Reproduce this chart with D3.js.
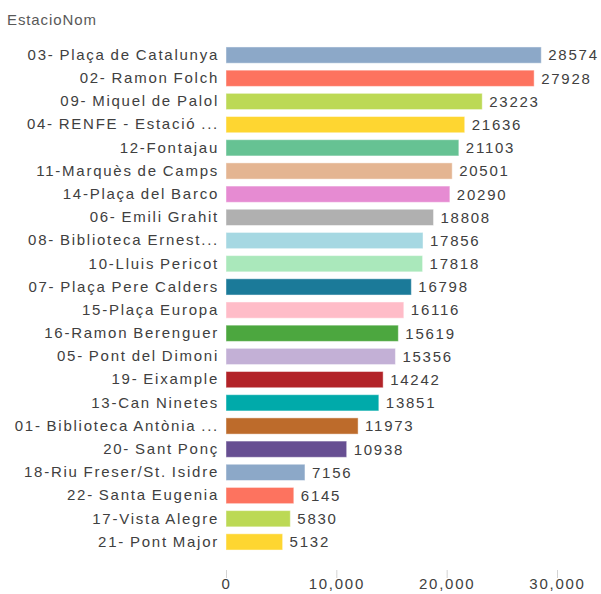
<!DOCTYPE html>
<html>
<head>
<meta charset="utf-8">
<script src="https://cdn.jsdelivr.net/npm/d3@7"></script>
<style>
  body { margin: 0; background: #fff; }
  text { font-family: "Liberation Sans", Arial, sans-serif; }
</style>
</head>
<body>
<script>
const stations = [
  "03- Plaça de Catalunya", "02- Ramon Folch", "09- Miquel de Palol", "04- RENFE - Estació ...",
  "12-Fontajau", "11-Marquès de Camps", "14-Plaça del Barco", "06- Emili Grahit",
  "08- Biblioteca Ernest...", "10-Lluis Pericot", "07- Plaça Pere Calders", "15-Plaça Europa",
  "16-Ramon Berenguer", "05- Pont del Dimoni", "19- Eixample", "13-Can Ninetes",
  "01- Biblioteca Antònia ...", "20- Sant Ponç", "18-Riu Freser/St. Isidre", "22- Santa Eugenia",
  "17-Vista Alegre", "21- Pont Major"
]
const values = [28574, 27928, 23223, 21636, 21103, 20501, 20290, 18808, 17856, 17818, 16798,
  16116, 15619, 15356, 14242, 13851, 11973, 10938, 7156, 6145, 5830, 5132]
const palette = ["#8ca8c8", "#fd735f", "#bcd955", "#fed631", "#66c293", "#e4b592", "#e68bd2",
  "#b0b0b0", "#a6d8e2", "#aae8bb", "#1b7a99", "#ffbcc8", "#4ca73f", "#c3b0d6", "#b22328",
  "#00aaaa", "#bd6b2b", "#674f92"]
const xTicks = [0, 10000, 20000, 30000]

const w = 601
const h = 594
const spacing = '1.75px'

const svg = d3.select('body')
    .append('svg')
    .attr('width', w)
    .attr('height', h)

svg.append('text')
    .attr('x', 7)
    .attr('y', 25)
    .attr('fill', '#595959')
    .style('font-size', '15px')
    .style('letter-spacing', '0.9px')
    .text('EstacioNom')

const x = d3.scaleLinear()
    .domain([0, 30000])
    .range([226, 557])

const y = d3.scaleBand()
    .domain(stations)
    .range([43.5, 553.5])
    .paddingInner(0.3)
    .paddingOuter(0.15)

const color = d3.scaleOrdinal()
    .domain(stations)
    .range(palette)

const rows = stations.map((s, i) => ({ name: s, value: values[i] }))

svg.selectAll('rect.bar')
    .data(rows)
    .enter()
    .append('rect')
    .attr('class', 'bar')
    .attr('x', x(0))
    .attr('y', d => y(d.name))
    .attr('width', d => x(d.value) - x(0))
    .attr('height', y.bandwidth())
    .attr('fill', d => color(d.name))
    .attr('stroke', '#fff')
    .attr('stroke-opacity', 0.45)

svg.selectAll('text.val')
    .data(rows)
    .enter()
    .append('text')
    .attr('class', 'val')
    .attr('x', d => x(d.value) + 7)
    .attr('y', d => y(d.name) + y.bandwidth() / 2)
    .attr('dy', '0.36em')
    .attr('fill', '#404040')
    .style('font-size', '15px')
    .style('letter-spacing', spacing)
    .text(d => d.value)

const yAxis = d3.axisLeft(y).tickSize(0).tickPadding(7)
const gy = svg.append('g')
    .attr('transform', `translate(${x(0)}, 0)`)
    .call(yAxis)
gy.select('.domain').remove()
gy.selectAll('text')
    .attr('fill', '#404040')
    .style('font-size', '15px')
    .style('font-family', '"Liberation Sans", Arial, sans-serif')
    .style('letter-spacing', spacing)
    .style('word-spacing', '-1px')

const xAxis = d3.axisBottom(x)
    .tickValues(xTicks)
    .tickFormat(d3.format(','))
    .tickSize(8)
    .tickPadding(0)
const gx = svg.append('g')
    .attr('transform', 'translate(0, 570)')
    .call(xAxis)
gx.select('.domain').remove()
gx.selectAll('line').attr('stroke', '#d4d4d4')
gx.selectAll('text')
    .attr('fill', '#404040')
    .style('font-size', '15px')
    .style('font-family', '"Liberation Sans", Arial, sans-serif')
    .style('letter-spacing', spacing)
</script>
</body>
</html>
